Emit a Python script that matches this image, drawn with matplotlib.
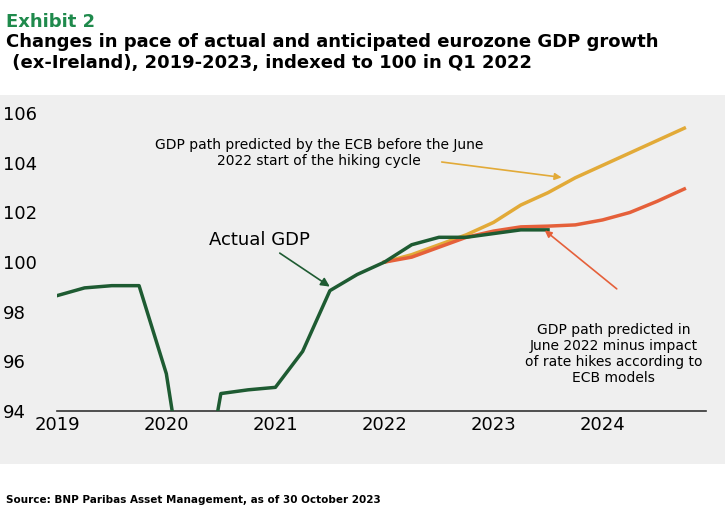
import matplotlib
matplotlib.use("Agg")
import matplotlib.pyplot as plt

actual_x = [2019+i*0.25 for i in range(19)]
actual_y = [98.65, 98.96, 99.05, 99.05, 95.5, 88.5, 94.7, 94.85, 94.95, 96.4, 98.85, 99.5,
            100.0, 100.7, 101.0, 101.0, 101.15, 101.3, 101.3]
proj_x = [2022+i*0.25 for i in range(12)]
ecb_y = [100.0, 100.3, 100.7, 101.1, 101.6, 102.3, 102.8, 103.4, 103.9, 104.4, 104.9, 105.4]
hike_y = [100.0, 100.2, 100.6, 101.0, 101.25, 101.42, 101.45, 101.5, 101.7, 102.0, 102.45, 102.95]
years = [2019, 2020, 2021, 2022, 2023, 2024]

fig = plt.figure(figsize=(7.25, 5.13), dpi=100)
bg = fig.add_axes([0, 0.095, 1, 0.72], zorder=-1)
bg.set_facecolor("#efefef")
bg.axis("off")
bg.add_patch(plt.Rectangle((0, 0), 1, 1, transform=bg.transAxes, color="#efefef"))
ax = fig.add_axes([0.079, 0.199, 0.895, 0.585])
ax.set_facecolor("none")
ax.plot(actual_x, actual_y, color="#1e5b32", lw=2.5, zorder=3)
ax.plot(proj_x, ecb_y, color="#e2aa38", lw=2.5)
ax.plot(proj_x, hike_y, color="#e5603a", lw=2.5)
ax.set_ylim(94, 106.1)
ax.set_xlim(2019, 2024.95)
ax.set_yticks(range(94, 107, 2))
ax.set_xticks(years)
ax.tick_params(labelsize=13, length=0)
ax.tick_params(axis="y", pad=39)
for lab in ax.get_yticklabels():
    lab.set_horizontalalignment("left")
for s in ["top", "right", "left"]:
    ax.spines[s].set_visible(False)
ax.spines["bottom"].set_color("#333333")
ax.spines["bottom"].set_linewidth(1.2)

ax.annotate("Actual GDP", xy=(2021.52, 98.95), xytext=(2021.32, 100.9),
            fontsize=13, ha="right", va="center",
            arrowprops=dict(arrowstyle="-|>", color="#1e5b32", lw=1.2))
ax.text(2021.4, 104.4, "GDP path predicted by the ECB before the June\n2022 start of the hiking cycle",
        fontsize=10, ha="center", va="center")
ax.annotate("", xy=(2023.65, 103.4), xytext=(2022.5, 104.05),
            arrowprops=dict(arrowstyle="-|>", color="#e2aa38", lw=1.2))
ax.annotate("", xy=(2023.45, 101.35), xytext=(2024.15, 98.85),
            arrowprops=dict(arrowstyle="-|>", color="#e5603a", lw=1.2))
ax.text(2024.1, 96.3, "GDP path predicted in\nJune 2022 minus impact\nof rate hikes according to\nECB models",
        fontsize=10, ha="center", va="center")

fig.text(0.008, 0.975, "Exhibit 2", color="#1f8a4c", fontsize=13, fontweight="bold", va="top")
fig.text(0.008, 0.935, "Changes in pace of actual and anticipated eurozone GDP growth\n (ex-Ireland), 2019-2023, indexed to 100 in Q1 2022",
         fontsize=13, fontweight="bold", va="top")
fig.text(0.008, 0.015, "Source: BNP Paribas Asset Management, as of 30 October 2023", fontsize=7.5,
         fontweight="bold", va="bottom")
fig.savefig("out.png", dpi=100)
